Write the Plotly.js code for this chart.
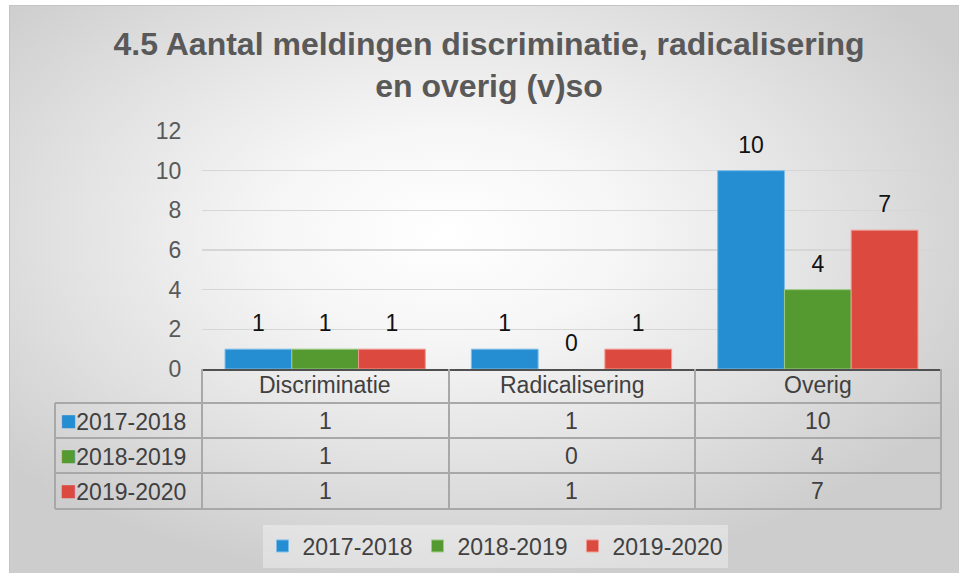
<!DOCTYPE html>
<html>
<head>
<meta charset="utf-8">
<script src="https://cdn.plot.ly/plotly-3.0.1.min.js"></script>
<style>
  html, body { margin: 0; padding: 0; background: #ffffff; }
  #wrap { position: relative; width: 959px; height: 573px; overflow: hidden; }
  #bg { position: absolute; left: 9px; top: 5px; width: 950px; height: 568px;
        background: radial-gradient(ellipse 62% 62% at 46% 40%, #ffffff 0%, #f6f6f6 30%, #e2e2e2 65%, #cdcdcd 100%);
        border-left: 1px solid #c4c4c4; border-top: 1px solid #c4c4c4; box-sizing: border-box; }
  #chart { position: absolute; left: 0; top: 0; width: 959px; height: 573px; }
</style>
</head>
<body>
<div id="wrap"><div id="bg"></div><div id="chart"></div></div>
<script>
const categories = ['Discriminatie', 'Radicalisering', 'Overig'];
const seriesNames = ['2017-2018', '2018-2019', '2019-2020'];
const values2017 = [1, 1, 10];
const values2018 = [1, 0, 4];
const values2019 = [1, 1, 7];
const yTickVals = [0, 2, 4, 6, 8, 10, 12];
const titleText = '4.5 Aantal meldingen discriminatie, radicalisering<br>en overig (v)so';

const seriesValues = [values2017, values2018, values2019];
const colors = ['#258ED2', '#559A31', '#DC4A3F'];
const edgeColors = ['#7DBDE9', '#9CCB84', '#EE9991'];
const FONT = '"Liberation Sans", Arial, sans-serif';
const TXT = '#404040';

// page geometry (pixels) -> paper fractions
const M = { l: 55, r: 18, t: 131, b: 64 };
const W = 959, H = 573;
const PW = W - M.l - M.r, PH = H - M.t - M.b;
const px2x = (px) => (px - M.l) / PW;
const py2y = (py) => (H - M.b - py) / PH;

const traces = [];
seriesNames.forEach((name, i) => {
  traces.push({
    type: 'bar', name: name, x: categories, y: seriesValues[i],
    marker: { color: colors[i], line: { color: edgeColors[i], width: seriesValues[i].map(v => v ? 1 : 0) } },
    offsetgroup: 'g' + i, hoverinfo: 'skip'
  });
});
seriesNames.forEach((name, i) => {
  traces.push({
    type: 'scatter', mode: 'markers+text', x: categories, y: seriesValues[i],
    text: seriesValues[i].map(String), textposition: 'top center',
    textfont: { family: FONT, size: 23, color: '#111111' },
    marker: { size: 18, color: 'rgba(0,0,0,0)' },
    offsetgroup: 'g' + i, showlegend: false, cliponaxis: false, hoverinfo: 'skip'
  });
});

// data table drawn with shapes + annotations
const colX = [55, 202, 449, 695, 941];
const rowY = [369, 403, 438, 473, 509];
const gridColor = '#A8A8A8';
const shapes = [];
rowY.slice(1).forEach(py => {
  shapes.push({ type: 'line', xref: 'paper', yref: 'paper', x0: px2x(colX[0]), x1: px2x(colX[4]),
    y0: py2y(py), y1: py2y(py), line: { color: gridColor, width: 2 } });
});
colX.forEach((px, k) => {
  shapes.push({ type: 'line', xref: 'paper', yref: 'paper', x0: px2x(px), x1: px2x(px),
    y0: py2y(k === 0 ? rowY[1] : rowY[0]), y1: py2y(rowY[4]), line: { color: gridColor, width: 2 } });
});

const annotations = [];
const rowMid = (r) => (rowY[r] + rowY[r + 1]) / 2;
categories.forEach((c) => {
  annotations.push({ x: c, xref: 'x', y: py2y(rowMid(0)), yref: 'paper', yanchor: 'middle', yshift: 1,
    text: c, showarrow: false, font: { family: FONT, size: 23, color: TXT } });
});
seriesNames.forEach((n, i) => {
  annotations.push({ x: px2x(58), xref: 'paper', xanchor: 'left', y: py2y(rowMid(i + 1)), yref: 'paper', yanchor: 'middle', yshift: 0,
    text: '<span style="color:' + colors[i] + ';font-size:27px">■</span>' + n,
    showarrow: false, font: { family: FONT, size: 23, color: TXT } });
  categories.forEach((c, j) => {
    annotations.push({ x: c, xref: 'x', y: py2y(rowMid(i + 1)), yref: 'paper', yanchor: 'middle', yshift: 0,
      text: String(seriesValues[i][j]), showarrow: false, font: { family: FONT, size: 23, color: TXT } });
  });
});

const layout = {
  width: W, height: H,
  paper_bgcolor: 'rgba(0,0,0,0)', plot_bgcolor: 'rgba(0,0,0,0)',
  margin: { l: M.l, r: M.r, t: M.t, b: M.b, pad: 0, autoexpand: false },
  font: { family: FONT, size: 23, color: '#595959' },
  title: {
    text: titleText, x: 0.51, xanchor: 'center', y: 0.904, yanchor: 'top',
    font: { family: FONT, size: 32, color: '#595959', weight: 'bold' }
  },
  barmode: 'group', bargap: 0.187, bargroupgap: 0,
  scattermode: 'group', scattergap: 0.187,
  xaxis: {
    domain: [px2x(202), 1], type: 'category', showticklabels: false,
    showline: true, linecolor: '#505050', linewidth: 2, showgrid: false, zeroline: false,
    fixedrange: true
  },
  yaxis: {
    domain: [py2y(369), 1], range: [0, 12], tickvals: yTickVals,
    showgrid: true, gridcolor: '#D6D6D6', gridwidth: 1.3, zeroline: false,
    showline: false, ticks: 'outside', ticklen: 15, tickcolor: 'rgba(0,0,0,0)',
    tickfont: { family: FONT, size: 23, color: '#595959' }, fixedrange: true
  },
  shapes: shapes,
  annotations: annotations,
  showlegend: true,
  legend: {
    orientation: 'h', x: px2x(495), xanchor: 'center', y: py2y(546), yanchor: 'middle',
    bgcolor: 'rgba(255,255,255,0.35)', itemwidth: 30,
    font: { family: FONT, size: 23, color: TXT }
  }
};

Plotly.newPlot('chart', traces, layout, { displayModeBar: false, staticPlot: true });
</script>
</body>
</html>
